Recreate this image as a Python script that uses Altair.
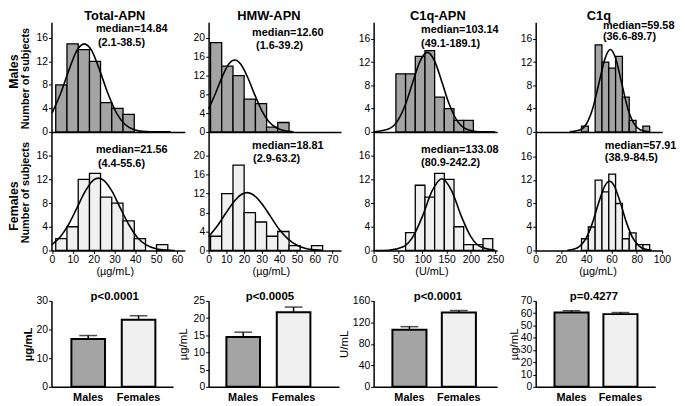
import altair as alt
import pandas as pd

FONT = "Liberation Sans"

# ---------------- data ----------------
groups = ["Males", "Females"]
titles = ["Total-APN", "HMW-APN", "C1q-APN", "C1q"]
units_hist = ["(µg/mL)", "(µg/mL)", "(U/mL)", "(µg/mL)"]
units_bar = ["µg/mL", "µg/mL", "U/mL", "µg/mL"]
p_values = ["p<0.0001", "p<0.0005", "p<0.0001", "p=0.4277"]

median_m = ["median=14.84", "median=12.60", "median=103.14", "median=59.58"]
range_m = ["(2.1-38.5)", "(1.6-39.2)", "(49.1-189.1)", "(36.6-89.7)"]
median_f = ["median=21.56", "median=18.81", "median=133.08", "median=57.91"]
range_f = ["(4.4-55.6)", "(2.9-63.2)", "(80.9-242.2)", "(38.9-84.5)"]

# histogram bin edges and counts (males / females)
tot_edges = [1.8, 7.2, 12.6, 18.0, 23.3, 28.7, 34.1, 39.5, 44.9, 50.2, 55.6]
tot_m = [8, 15, 14, 12, 5, 4, 3]
tot_f = [2, 4, 12, 13, 9, 8, 5, 2, 0, 1]
hmw_edges = [1.1, 7.4, 13.8, 20.1, 26.5, 32.8, 39.1, 45.5, 51.8, 58.2, 64.5]
hmw_m = [19, 14, 12, 7, 6, 1, 2]
hmw_f = [3, 12, 18, 8, 6, 3, 4, 1, 0, 1]
capn_edges = [45, 65, 85, 105, 125, 145, 165, 185, 205, 225, 245]
capn_m = [10, 10, 13, 14, 6, 4, 2, 2]
capn_f = [0, 3, 11, 9, 13, 12, 4, 1, 1, 2]
c1q_edges = [36.3, 41.7, 47.1, 52.5, 57.9, 63.3, 68.7, 74.1, 79.5, 84.9, 90.3]
c1q_m = [1, 0, 15, 12, 11, 13, 6, 2, 0, 1]
c1q_f = [2, 4, 12, 10, 13, 8, 2, 3, 1, 1]

# fitted curves, points
tot_m_cx = [0, 4, 8, 12, 15.5, 19, 23, 27, 31, 35, 40, 45, 50, 57]
tot_m_cy = [3.2, 6.4, 10.4, 13.9, 15.0, 13.9, 10.4, 6.4, 3.2, 1.3, 0.3, 0.05, 0.0, 0.0]
tot_f_cx = [0, 4, 8, 12, 16, 20, 22.4, 25, 29, 33, 37, 41, 45, 50, 55, 59]
tot_f_cy = [1.0, 2.3, 4.4, 7.2, 10.0, 11.9, 12.2, 11.8, 9.9, 7.0, 4.3, 2.2, 1.0, 0.3, 0.07, 0.0]
hmw_m_cx = [0, 4, 8, 11.5, 14.8, 18, 22, 26, 30, 34, 38, 43, 48]
hmw_m_cy = [4.9, 8.3, 12.0, 14.5, 15.3, 14.5, 11.7, 8.0, 4.6, 2.2, 0.93, 0.24, 0.03]
hmw_f_cx = [0, 5, 10, 15, 19, 21.8, 25, 30, 35, 40, 45, 50, 55, 60, 64]
hmw_f_cy = [2.9, 5.2, 8.0, 10.6, 11.9, 12.2, 11.8, 9.9, 7.2, 4.4, 2.4, 1.1, 0.42, 0.14, 0.05]
capn_m_cx = [0, 30, 50, 65, 80, 95, 110, 125, 140, 155, 170, 190, 210, 250]
capn_m_cy = [0.03, 0.49, 2.1, 4.8, 8.6, 12.2, 13.7, 12.2, 8.6, 4.8, 2.1, 0.49, 0.08, 0.0]
capn_f_cx = [0, 30, 60, 80, 100, 120, 140, 160, 180, 200, 220, 250]
capn_f_cy = [0.0, 0.05, 0.64, 2.3, 5.8, 10.1, 12.1, 10.1, 5.8, 2.3, 0.64, 0.05]
c1q_m_cx = [27, 35, 40, 45, 50, 55, 59.1, 63, 68, 73, 78, 83, 90]
c1q_m_cy = [0.0, 0.32, 1.31, 3.9, 8.3, 12.7, 14.2, 12.9, 8.5, 4.0, 1.38, 0.34, 0.03]
c1q_f_cx = [25, 30, 35, 40, 45, 50, 55, 58.5, 62, 67, 72, 77, 82, 87, 92]
c1q_f_cy = [0.04, 0.2, 0.75, 2.1, 4.7, 8.2, 11.1, 11.8, 11.1, 8.2, 4.7, 2.1, 0.75, 0.2, 0.04]

# bar charts: mean and top of error bar (males, females)
tot_mean = [16.7, 23.4]
tot_err = [17.9, 24.8]
hmw_mean = [14.5, 21.7]
hmw_err = [15.9, 23.2]
capn_mean = [106.2, 138.4]
capn_err = [112.0, 142.0]
c1q_mean = [60.5, 59.2]
c1q_err = [61.9, 60.5]

# ---------------- styling / layout ----------------
GRAY_M = "#a4a4a4"
GRAY_F = "#f0f0f0"

COLW = [135, 134, 125, 128]
SPW = [24, 33, 39]
H_M, H_F, GAP, H_B = 111, 120, 51, 87
BARW = [123, 132, 125, 121]

XDOM = [[-0.24, 63.8], [0, 74.9], [-1.0, 254.1], [0, 100.2]]
XTICKS = [list(range(0, 61, 10)), list(range(0, 71, 10)), list(range(0, 251, 50)), list(range(0, 101, 20))]
XTITLE_X = [64, 63, 58.5, 62.5]
YDOM_M = [18.69, 23.37, 18.89, 18.89]
YDOM_F = [20.0, 25.0, 20.0, 20.2]
YT_M = [[0, 4, 8, 12, 16], [0, 4, 8, 12, 16, 20], [0, 4, 8, 12, 16], [0, 4, 8, 12, 16]]
YT_F = [[0, 4, 8, 12, 16], [0, 4, 8, 12, 16, 20], [0, 4, 8, 12, 16], [0, 4, 8, 12, 16]]
TITLE_CX = [64, 61, 65, 64]
P_CX = [64, 62, 65, 59]

ANN_M = [(45, 47, 9.5, 24), (44, 48, 14, 27.5), (48, 48, 10.5, 25), (68, 68, 7, 18.5)]
ANN_F = [(45, 47, 21, 36), (44, 45, 17, 30.5), (48, 48, 21, 35), (70, 70, 17, 29)]

BAR_PO = [0.373, 0.461, 0.405, 0.374]
BAR_PI = [0.333, 0.333, 0.31, 0.303]
BAR_AL = [0.53, 0.383, 0.469, 0.514]
BAR_YMAX = [30, 25, 160, 70]
BAR_YT = [[0, 10, 20, 30], [0, 5, 10, 15, 20, 25], [0, 40, 80, 120, 160], list(range(0, 71, 10))]
BAR_TX = [-23, -25, -29, -21]


def text_layer(s, x, y, size=11, weight="bold", angle=0, align="left", baseline="alphabetic"):
    return alt.Chart(pd.DataFrame({"t": [s]})).mark_text(
        align=align, baseline=baseline, fontSize=size, fontWeight=weight,
        angle=angle, font=FONT, color="black"
    ).encode(x=alt.value(x), y=alt.value(y), text="t:N")


def hist(col, edges, counts, cx, cy, fill, female):
    n = len(counts)
    bins = pd.DataFrame({"lo": edges[:n], "hi": edges[1:n + 1], "n": counts})
    bins = bins[bins["n"] > 0]
    h = H_F if female else H_M
    ydom = YDOM_F[col] if female else YDOM_M[col]
    yt = YT_F[col] if female else YT_M[col]
    xs = alt.Scale(domain=XDOM[col], nice=False, zero=False)
    ys = alt.Scale(domain=[0, ydom], nice=False, zero=True)
    if female:
        xax = alt.Axis(values=XTICKS[col], title=units_hist[col], titleX=XTITLE_X[col],
                       titleY=21, titleBaseline="middle", titleFontWeight="normal",
                       titleFontSize=11, labelFlush=False, tickSize=3, labelPadding=1)
    else:
        xax = alt.Axis(values=XTICKS[col], title=None, labels=False, ticks=False)
    ykw = dict(values=yt, tickSize=3, labelPadding=1)
    if col == 0:
        ykw.update(title="Number of subjects", titleX=-26, titleY=h / 2 + 1, titleAngle=270,
                   titleAlign="center", titleBaseline="middle", titleFontSize=11,
                   titleFontWeight="bold")
    else:
        ykw.update(title=None)
    yax = alt.Axis(**ykw)
    bars = alt.Chart(bins).mark_rect(fill=fill, stroke="black", strokeWidth=1.3).encode(
        x=alt.X("lo:Q", scale=xs, axis=xax), x2="hi",
        y=alt.Y("n:Q", scale=ys, axis=yax), y2=alt.datum(0))
    curve = alt.Chart(pd.DataFrame({"lo": cx, "n": cy})).mark_line(
        color="black", strokeWidth=1.6, interpolate="monotone").encode(
        x=alt.X("lo:Q", scale=xs, axis=xax), y=alt.Y("n:Q", scale=ys, axis=yax))
    a = ANN_F[col] if female else ANN_M[col]
    med = median_f[col] if female else median_m[col]
    rng = range_f[col] if female else range_m[col]
    layers = [bars, curve, text_layer(med, a[0], a[2]), text_layer(rng, a[1], a[3])]
    if col == 0:
        lab = "Females" if female else "Males"
        ly = 75 if female else 50
        layers.append(text_layer(lab, -38, ly, size=12.5, angle=270, align="center",
                                 baseline="middle"))
    if not female:
        layers.append(text_layer(titles[col], TITLE_CX[col], -2, size=13, align="center"))
    return alt.layer(*layers).properties(width=COLW[col], height=h)


def barpanel(col, means, errs):
    df = pd.DataFrame({"g": groups, "m": means, "e": errs})
    xs = alt.Scale(domain=groups, paddingInner=BAR_PI[col], paddingOuter=BAR_PO[col],
                   align=BAR_AL[col])
    xax = alt.Axis(title=None, ticks=False, tickSize=0, labelAngle=0, labelFontWeight="bold",
                   labelFontSize=11, labelPadding=5)
    ys = alt.Scale(domain=[0, BAR_YMAX[col]], nice=False)
    yax = alt.Axis(values=BAR_YT[col], title=units_bar[col], titleX=BAR_TX[col],
                   titleY=H_B / 2, titleAngle=270, titleAlign="center",
                   titleBaseline="middle", titleFontSize=11.5,
                   titleFontWeight="bold" if col == 0 else "normal",
                   tickSize=3, labelPadding=1)
    x = alt.X("g:N", sort=groups, scale=xs, axis=xax)
    base = alt.Chart(df)
    bars = base.mark_bar(stroke="black", strokeWidth=2).encode(
        x=x, y=alt.Y("m:Q", scale=ys, axis=yax),
        fill=alt.Fill("g:N", scale=alt.Scale(domain=groups, range=[GRAY_M, GRAY_F]), legend=None))
    err = base.mark_rule(color="black", strokeWidth=1.5).encode(
        x=x, y=alt.Y("m:Q", scale=ys, axis=yax), y2="e")
    cap = base.mark_tick(color="black", thickness=1.5, size=18).encode(
        x=x, y=alt.Y("e:Q", scale=ys, axis=yax))
    ptxt = text_layer(p_values[col], P_CX[col], -1, size=11.5, align="center")
    return alt.layer(err, cap, bars, ptxt).properties(width=BARW[col], height=H_B)


def spacer(w, h):
    return alt.Chart(pd.DataFrame({"z": [0]})).mark_point(opacity=0).properties(width=w, height=h)


hist_data = [
    (tot_edges, tot_m, tot_f, tot_m_cx, tot_m_cy, tot_f_cx, tot_f_cy),
    (hmw_edges, hmw_m, hmw_f, hmw_m_cx, hmw_m_cy, hmw_f_cx, hmw_f_cy),
    (capn_edges, capn_m, capn_f, capn_m_cx, capn_m_cy, capn_f_cx, capn_f_cy),
    (c1q_edges, c1q_m, c1q_f, c1q_m_cx, c1q_m_cy, c1q_f_cx, c1q_f_cy),
]
bar_data = [(tot_mean, tot_err), (hmw_mean, hmw_err), (capn_mean, capn_err), (c1q_mean, c1q_err)]

rows = [[], [], [], []]
for c in range(4):
    e, m, f, mx, my, fx, fy = hist_data[c]
    rows[0].append(hist(c, e, m, mx, my, GRAY_M, False))
    rows[1].append(hist(c, e, f, fx, fy, GRAY_F, True))
    rows[2].append(spacer(1, GAP))
    rows[3].append(barpanel(c, *bar_data[c]))
    if c < 3:
        rows[0].append(spacer(SPW[c], H_M))
        rows[1].append(spacer(SPW[c], H_F))
        rows[2].append(spacer(SPW[c], GAP))
        rows[3].append(spacer(SPW[c], H_B))

cells = rows[0] + rows[1] + rows[2] + rows[3]

chart = alt.concat(*cells, columns=7, spacing=0, bounds="flush", align="each").properties(
    padding=0
).configure_view(stroke=None).configure_axis(
    domainColor="black", domainWidth=1.5, tickColor="black", tickWidth=1,
    labelColor="black", labelFont=FONT, labelFontSize=10.5, titleFont=FONT,
    titleColor="black", grid=False
).configure_text(font=FONT)

chart.save("out.html", embed_options={"renderer": "svg", "actions": False})
